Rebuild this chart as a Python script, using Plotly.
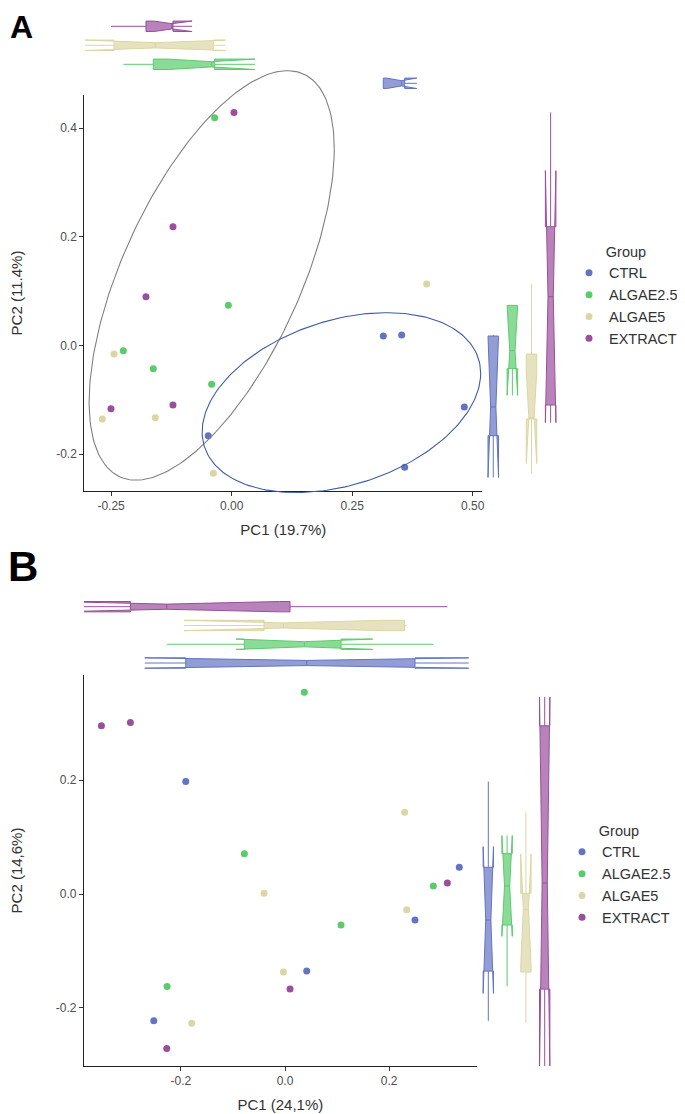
import numpy as np
import plotly.graph_objects as go

W, H = 685, 1114
OFF = 8  # page body margin offset (px)
FW, FH = W - OFF, H - OFF
FONT = "Liberation Sans, Arial, sans-serif"

GROUPS = ["CTRL", "ALGAE2.5", "ALGAE5", "EXTRACT"]
COLORS = ["#6374C2", "#5BCB6C", "#DBD6A4", "#9A4F9C"]

# ---- Panel A scores (PC1, PC2) per group ----
A_CTRL_PC1 = [-0.0485, 0.3145, 0.3526, 0.3588, 0.4825]
A_CTRL_PC2 = [-0.1663, 0.0172, 0.0190, -0.2245, -0.1135]
A_ALG25_PC1 = [-0.0353, -0.0069, -0.2247, -0.1625, -0.0415]
A_ALG25_PC2 = [0.4190, 0.0736, -0.0098, -0.0429, -0.0718]
A_ALG5_PC1 = [0.4044, -0.2440, -0.2683, -0.1584, -0.0380]
A_ALG5_PC2 = [0.1129, -0.0160, -0.1356, -0.1331, -0.2356]
A_EXT_PC1 = [0.0048, -0.1217, -0.1777, -0.1217, -0.2503]
A_EXT_PC2 = [0.4288, 0.2184, 0.0896, -0.1098, -0.1166]

# ---- Panel B scores ----
B_CTRL_PC1 = [-0.1906, 0.3346, 0.2495, 0.0416, -0.2520]
B_CTRL_PC2 = [0.1976, 0.0470, -0.0457, -0.1355, -0.2228]
B_ALG25_PC1 = [0.0371, -0.0781, 0.2847, 0.1075, -0.2265]
B_ALG25_PC2 = [0.3547, 0.0709, 0.0141, -0.0545, -0.1624]
B_ALG5_PC1 = [0.2297, -0.0403, 0.2336, -0.0032, -0.1791]
B_ALG5_PC2 = [0.1437, 0.0012, -0.0276, -0.1372, -0.2269]
B_EXT_PC1 = [-0.3526, -0.2969, 0.3116, 0.0096, -0.2271]
B_EXT_PC2 = [0.2955, 0.3013, 0.0193, -0.1671, -0.2715]

A_PC1 = [A_CTRL_PC1, A_ALG25_PC1, A_ALG5_PC1, A_EXT_PC1]
A_PC2 = [A_CTRL_PC2, A_ALG25_PC2, A_ALG5_PC2, A_EXT_PC2]
B_PC1 = [B_CTRL_PC1, B_ALG25_PC1, B_ALG5_PC1, B_EXT_PC1]
B_PC2 = [B_CTRL_PC2, B_ALG25_PC2, B_ALG5_PC2, B_EXT_PC2]

# ---- Confidence ellipses in panel A (centre + shape matrix) ----
ELL_COLORS = ["#808080", "#3D5DA6"]
ELL_CX = [-0.0414, 0.2276]
ELL_CY = [0.1287, -0.1054]
ELL_SXX = [0.0646, 0.0834]
ELL_SYY = [0.1420, 0.0274]
ELL_SXY = [0.0592, 0.01555]

# ---- Axis ticks / titles ----
A_XTICKS = [-0.25, 0.0, 0.25, 0.5]
A_XLABELS = ["-0.25", "0.00", "0.25", "0.50"]
A_YTICKS = [-0.2, 0.0, 0.2, 0.4]
A_YLABELS = ["-0.2", "0.0", "0.2", "0.4"]
B_XTICKS = [-0.2, 0.0, 0.2]
B_XLABELS = ["-0.2", "0.0", "0.2"]
B_YTICKS = [-0.2, 0.0, 0.2]
B_YLABELS = ["-0.2", "0.0", "0.2"]
A_XTITLE, A_YTITLE = "PC1 (19.7%)", "PC2 (11.4%)"
B_XTITLE, B_YTITLE = "PC1 (24,1%)", "PC2 (14,6%)"

# ---- Layout geometry (screen pixels) ----
A_MAIN = dict(x0=84.3, x1=482.3, y0=95, y1=491, xr=[-0.3056, 0.5198], yr=[-0.2681, 0.4608])
A_TOP = (16.8, 92.8)      # y px (top, bottom)
A_RIGHT = (483.7, 560.2)  # x px (left, right)
B_MAIN = dict(x0=84.0, x1=476.7, y0=675, y1=1066, xr=[-0.386, 0.368], yr=[-0.3022, 0.3848])
B_TOP = (597.3, 672.4)
B_RIGHT = (478.9, 554.1)


def fx(p):
    return (p - OFF) / FW


def fy(p):
    return 1 - (p - OFF) / FH


def rgba(hexc, a):
    h = hexc.lstrip("#")
    return "rgba(%d,%d,%d,%.2f)" % (int(h[0:2], 16), int(h[2:4], 16), int(h[4:6], 16), a)


def box_stats(v):
    v = np.sort(np.asarray(v, float))
    q1, med, q3 = np.percentile(v, [25, 50, 75])
    iqr = q3 - q1
    lo = v[v >= q1 - 1.5 * iqr].min()
    hi = v[v <= q3 + 1.5 * iqr].max()
    notch = 1.58 * iqr / np.sqrt(len(v))
    return q1, med, q3, lo, hi, notch


fig = go.Figure()

hidden = dict(visible=False, showgrid=False, zeroline=False, fixedrange=True)


def main_axis(domain, rng, tv, tt, title, standoff):
    return dict(domain=domain, range=rng, showline=True, linecolor="#222", linewidth=1.1,
                ticks="outside", ticklen=4, tickwidth=1, tickcolor="#333",
                tickmode="array", tickvals=tv, ticktext=tt,
                tickfont=dict(family=FONT, size=12, color="#4d4d4d"),
                showgrid=False, zeroline=False, fixedrange=True,
                title=dict(text=title, font=dict(family=FONT, size=15, color="#333"), standoff=standoff))


def build_panel(ids, main, top, right, pc1, pc2, xtv, xtt, ytv, ytt, xtitle, ytitle, legend):
    xm, ym, xt, yt, xr_, yr_ = ids
    xdom = [fx(main["x0"]), fx(main["x1"])]
    ydom = [fy(main["y1"]), fy(main["y0"])]
    layout = {}
    layout["xaxis%s" % xm] = main_axis(xdom, main["xr"], xtv, xtt, xtitle, 12)
    layout["xaxis%s" % xm]["anchor"] = "y%s" % ym
    layout["yaxis%s" % ym] = main_axis(ydom, main["yr"], ytv, ytt, ytitle, 36)
    layout["yaxis%s" % ym]["anchor"] = "x%s" % xm
    # top marginal
    layout["xaxis%s" % xt] = dict(hidden, domain=xdom, range=main["xr"], anchor="y%s" % yt)
    layout["yaxis%s" % yt] = dict(hidden, domain=[fy(top[1]), fy(top[0])], range=[-0.5, 3.5],
                                  anchor="x%s" % xt)
    # right marginal
    layout["xaxis%s" % xr_] = dict(hidden, domain=[fx(right[0]), fx(right[1])], range=[-0.5, 3.5],
                                   anchor="y%s" % yr_)
    layout["yaxis%s" % yr_] = dict(hidden, domain=ydom, range=main["yr"], anchor="x%s" % xr_)

    for i, g in enumerate(GROUPS):
        c = COLORS[i]
        fig.add_trace(go.Scatter(x=pc1[i], y=pc2[i], mode="markers", name=g,
                                 marker=dict(color=c, size=7, line=dict(width=0)),
                                 xaxis="x%s" % xm, yaxis="y%s" % ym, legend=legend,
                                 hoverinfo="skip"))
        q1, med, q3, lo, hi, nt = box_stats(pc1[i])
        fig.add_trace(go.Box(y=[i], q1=[q1], median=[med], q3=[q3], lowerfence=[lo], upperfence=[hi],
                             notchspan=[nt], notched=True, notchwidth=0.25, orientation="h",
                             width=0.55, whiskerwidth=0, boxpoints=False,
                             line=dict(color=c, width=1), fillcolor=rgba(c, 0.7),
                             xaxis="x%s" % xt, yaxis="y%s" % yt, showlegend=False, hoverinfo="skip"))
        q1, med, q3, lo, hi, nt = box_stats(pc2[i])
        fig.add_trace(go.Box(x=[i], q1=[q1], median=[med], q3=[q3], lowerfence=[lo], upperfence=[hi],
                             notchspan=[nt], notched=True, notchwidth=0.25, orientation="v",
                             width=0.55, whiskerwidth=0, boxpoints=False,
                             line=dict(color=c, width=1), fillcolor=rgba(c, 0.7),
                             xaxis="x%s" % xr_, yaxis="y%s" % yr_, showlegend=False, hoverinfo="skip"))
    return layout


layout = {}
layout.update(build_panel(("", "", "2", "2", "3", "3"), A_MAIN, A_TOP, A_RIGHT, A_PC1, A_PC2,
                          A_XTICKS, A_XLABELS, A_YTICKS, A_YLABELS, A_XTITLE, A_YTITLE, "legend"))
layout.update(build_panel(("5", "5", "6", "6", "7", "7"), B_MAIN, B_TOP, B_RIGHT, B_PC1, B_PC2,
                          B_XTICKS, B_XLABELS, B_YTICKS, B_YLABELS, B_XTITLE, B_YTITLE, "legend2"))

# Ellipse overlay axes for panel A (same scale as main, extended so ellipses are not clipped)
m = A_MAIN
sx = (m["x1"] - m["x0"]) / (m["xr"][1] - m["xr"][0])
sy = (m["y1"] - m["y0"]) / (m["yr"][1] - m["yr"][0])
pad_l, pad_r, pad_t, pad_b = 6, 6, 50, 6
layout["xaxis4"] = dict(hidden, domain=[fx(m["x0"] - pad_l), fx(m["x1"] + pad_r)],
                        range=[m["xr"][0] - pad_l / sx, m["xr"][1] + pad_r / sx], anchor="y4")
layout["yaxis4"] = dict(hidden, domain=[fy(m["y1"] + pad_b), fy(m["y0"] - pad_t)],
                        range=[m["yr"][0] - pad_b / sy, m["yr"][1] + pad_t / sy], anchor="x4")

t = np.linspace(0, 2 * np.pi, 241)
for k in range(len(ELL_CX)):
    L = np.linalg.cholesky(np.array([[ELL_SXX[k], ELL_SXY[k]], [ELL_SXY[k], ELL_SYY[k]]]))
    ex = ELL_CX[k] + L[0, 0] * np.cos(t)
    ey = ELL_CY[k] + L[1, 0] * np.cos(t) + L[1, 1] * np.sin(t)
    fig.add_trace(go.Scatter(x=ex, y=ey, mode="lines", line=dict(color=ELL_COLORS[k], width=1.1),
                             xaxis="x4", yaxis="y4", showlegend=False, hoverinfo="skip"))

LEG_FONT = dict(family=FONT, size=14.5, color="#333")
leg_common = dict(xanchor="left", yanchor="top", bgcolor="rgba(0,0,0,0)", borderwidth=0,
                  font=LEG_FONT, itemsizing="trace", tracegroupgap=0)
layout["legend"] = dict(leg_common, x=fx(569), y=fy(238),
                        title=dict(text="Group", font=LEG_FONT, side="top center"))
layout["legend2"] = dict(leg_common, x=fx(562), y=fy(817),
                         title=dict(text="Group", font=LEG_FONT, side="top center"))

fig.update_layout(**layout)
fig.update_layout(
    width=FW, height=FH, margin=dict(l=0, r=0, t=0, b=0),
    paper_bgcolor="white", plot_bgcolor="rgba(0,0,0,0)", template="none",
    showlegend=True,
    annotations=[
        dict(text="<b>A</b>", x=fx(8), y=fy(27), xref="paper", yref="paper", xanchor="left",
             yanchor="middle", showarrow=False, font=dict(family=FONT, size=32, color="black")),
        dict(text="<b>B</b>", x=fx(6), y=fy(566), xref="paper", yref="paper", xanchor="left",
             yanchor="middle", showarrow=False, font=dict(family=FONT, size=42, color="black")),
    ],
)

fig.write_html("out.html")
